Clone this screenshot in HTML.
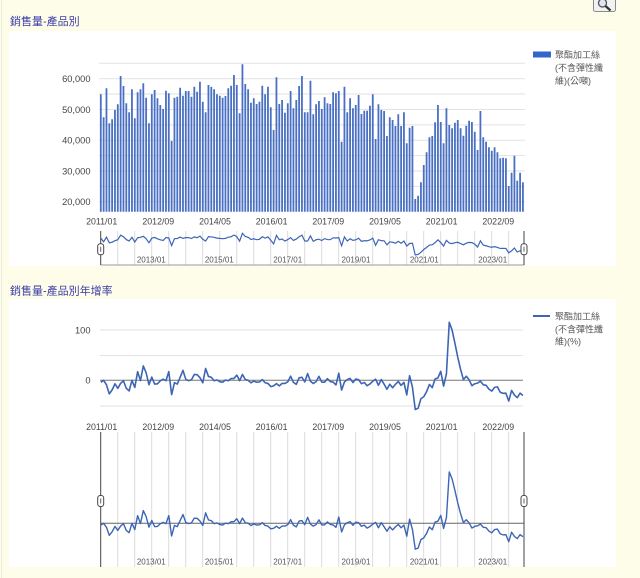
<!DOCTYPE html>
<html><head><meta charset="utf-8"><style>
html,body{margin:0;padding:0;width:640px;height:578px;overflow:hidden;background:#fefde9}
svg{display:block}
text{font-family:"Liberation Sans","Noto Sans CJK TC",sans-serif}
</style></head><body>
<svg xmlns="http://www.w3.org/2000/svg" width="640" height="578" viewBox="0 0 640 578">
<rect width="640" height="578" fill="#fefde9"/>
<line x1="1.5" y1="0" x2="1.5" y2="578" stroke="#ebebdc"/>
<rect x="9" y="31" width="607" height="235" fill="#fff"/>
<rect x="9" y="299" width="607" height="268" fill="#fff"/>

<!-- magnifier -->
<rect x="593.5" y="-3" width="22" height="14.5" rx="2" fill="#f2f2f2" stroke="#8a8a8a"/>
<circle cx="602.5" cy="3" r="4" fill="#dfe8f2" stroke="#555" stroke-width="1.3"/>
<line x1="605.5" y1="6" x2="610.5" y2="10.5" stroke="#333" stroke-width="2.2"/>

<!-- titles -->
<text x="10" y="25" font-size="11" fill="#3a3aa8">銷售量-產品別</text>
<text x="10" y="294.5" font-size="11" fill="#3a3aa8">銷售量-產品別年增率</text>

<!-- chart 1 grid -->
<g stroke="#e2e2e2" stroke-width="1">
<line x1="99" y1="63.3" x2="525" y2="63.3"/>
<line x1="99" y1="78.7" x2="525" y2="78.7"/>
<line x1="99" y1="94" x2="525" y2="94"/>
<line x1="99" y1="109.5" x2="525" y2="109.5"/>
<line x1="99" y1="124.9" x2="525" y2="124.9"/>
<line x1="99" y1="140.2" x2="525" y2="140.2"/>
<line x1="99" y1="155.6" x2="525" y2="155.6"/>
<line x1="99" y1="171" x2="525" y2="171"/>
<line x1="99" y1="186.4" x2="525" y2="186.4"/>
<line x1="99" y1="201.7" x2="525" y2="201.7"/>
</g>
<g font-size="9.3" fill="#444" text-anchor="end">
<text x="90.5" y="82">60,000</text>
<text x="90.5" y="112.8">50,000</text>
<text x="90.5" y="143.5">40,000</text>
<text x="90.5" y="174.3">30,000</text>
<text x="90.5" y="205">20,000</text>
</g>
<path id="bars" fill="#4a70c4" d=""/>
<g font-size="8.8" fill="#444" text-anchor="middle">
<text x="101.7" y="224.7">2011/01</text>
<text x="158.3" y="224.7">2012/09</text>
<text x="215" y="224.7">2014/05</text>
<text x="271.7" y="224.7">2016/01</text>
<text x="328.3" y="224.7">2017/09</text>
<text x="385" y="224.7">2019/05</text>
<text x="441.7" y="224.7">2021/01</text>
<text x="498.3" y="224.7">2022/09</text>
</g>
<!-- legend 1 -->
<rect x="533" y="51.5" width="18" height="6" fill="#3366cc"/>
<g font-size="9" fill="#555">
<text x="555" y="58">聚酯加工絲</text>
<text x="555" y="71">(不含彈性纖</text>
<text x="555" y="84">維)(公噸)</text>
</g>

<!-- nav 1 -->
<path id="nav1grid" stroke="#dcdcdc" stroke-width="1" fill="none" d=""/>
<line x1="100.7" y1="265" x2="524" y2="265" stroke="#999"/>
<path id="nav1line" stroke="#3d65b5" stroke-width="1.2" fill="none" d=""/>
<line x1="100.7" y1="231" x2="100.7" y2="265" stroke="#444"/>
<line x1="524" y1="231" x2="524" y2="265" stroke="#444"/>
<g font-size="8" fill="#555" text-anchor="middle">
<text x="151.3" y="262.3">2013/01</text>
<text x="219.3" y="262.3">2015/01</text>
<text x="287.7" y="262.3">2017/01</text>
<text x="356" y="262.3">2019/01</text>
<text x="424.3" y="262.3">2021/01</text>
<text x="492.7" y="262.3">2023/01</text>
</g>
<g fill="#fff" stroke="#444">
<rect x="97.7" y="243.8" width="6" height="11" rx="2.5"/>
<rect x="521" y="243.8" width="6" height="11" rx="2.5"/>
</g>
<g stroke="#666"><line x1="100.7" y1="246.8" x2="100.7" y2="251.8"/><line x1="524" y1="246.8" x2="524" y2="251.8"/></g>

<!-- chart 2 -->
<g stroke="#e2e2e2" stroke-width="1">
<line x1="100" y1="330" x2="523" y2="330"/>
<line x1="100" y1="355.5" x2="523" y2="355.5"/>
<line x1="100" y1="406" x2="523" y2="406"/>
</g>
<line x1="100" y1="380.3" x2="523" y2="380.3" stroke="#777"/>
<g font-size="9.3" fill="#444" text-anchor="end">
<text x="90.5" y="333.3">100</text>
<text x="90.5" y="383.6">0</text>
</g>
<path id="main2" stroke="#3d65b5" stroke-width="1.6" fill="none" stroke-linejoin="round" d=""/>
<g font-size="8.8" fill="#444" text-anchor="middle">
<text x="101.7" y="429.8">2011/01</text>
<text x="158.3" y="429.8">2012/09</text>
<text x="215" y="429.8">2014/05</text>
<text x="271.7" y="429.8">2016/01</text>
<text x="328.3" y="429.8">2017/09</text>
<text x="385" y="429.8">2019/05</text>
<text x="441.7" y="429.8">2021/01</text>
<text x="498.3" y="429.8">2022/09</text>
</g>
<line x1="533" y1="316" x2="550" y2="316" stroke="#3d65b5" stroke-width="2"/>
<g font-size="9" fill="#555">
<text x="555" y="319.5">聚酯加工絲</text>
<text x="555" y="332.5">(不含彈性纖</text>
<text x="555" y="344.5">維)(%)</text>
</g>

<!-- nav 2 -->
<path id="nav2grid" stroke="#dcdcdc" stroke-width="1" fill="none" d=""/>
<line x1="100.7" y1="523.3" x2="524" y2="523.3" stroke="#666"/>
<path id="nav2line" stroke="#3d65b5" stroke-width="1.4" fill="none" stroke-linejoin="round" d=""/>
<line x1="100.7" y1="432" x2="100.7" y2="567" stroke="#444"/>
<line x1="524" y1="432" x2="524" y2="567" stroke="#444"/>
<g font-size="8" fill="#555" text-anchor="middle">
<text x="151.3" y="564.7">2013/01</text>
<text x="219.3" y="564.7">2015/01</text>
<text x="287.7" y="564.7">2017/01</text>
<text x="356" y="564.7">2019/01</text>
<text x="424.3" y="564.7">2021/01</text>
<text x="492.7" y="564.7">2023/01</text>
</g>
<g fill="#fff" stroke="#444">
<rect x="97.7" y="495.5" width="6" height="11" rx="2.5"/>
<rect x="521" y="495.5" width="6" height="11" rx="2.5"/>
</g>
<g stroke="#666"><line x1="100.7" y1="498.5" x2="100.7" y2="503.5"/><line x1="524" y1="498.5" x2="524" y2="503.5"/></g>
</svg>
<script>
(function(){
var Y=[94.3,117.3,88.3,123.3,119.3,110,104.3,76,86,103.3,
112.3,89.3,118.3,92.3,89.3,83.3,97.7,123.3,94.3,90,
98.3,105,109,90.7,93.3,141,97.7,96.7,87.7,95.7,
91,91,96.7,86.7,91.7,81.7,101.7,112.3,85,86.7,
89.3,94.3,95.7,97.7,96,88.3,85.7,75,85,113.3,
64.3,84,89.3,102.7,98.3,104,101.7,85.7,94.3,86.7,
107.3,130,77.3,104,100,112.7,103.3,91,108.3,100,
86,
76,112.3,112.3,80.7,114.3,104.3,101,109,97.3,103.3,
104,92.3,93.3,91,141.7,86.7,112.3,98.3,108.3,105,
95,114,110.7,110.7,105.7,94.3,139,104.3,110,111,
136,117.3,120,126,114.3,126,112.3,143.3,127.7,126,
199,195.7,182.3,165,152.3,137.3,136,122.3,105,122,
143.3,108.3,125,128.3,122.7,120,128.3,135.7,125.7,120.7,
122,131.7,150,111,137.3,141.7,147.3,150.7,147.3,152.3,
158.3,157.7,158.3,186,172.7,155.7,180.7,172.7,182.3];
var first=[-4,0,-9,-27,-19,-7,-16,-6,-1,-16,-21,0];
var V=Y.map(function(y){return 60000-(y-78.7)*325.2;});
var P=V.map(function(v,i){return i<12?first[i]:(v/V[i-12]-1)*100;});
function X(i){return 100.8+i*2.833;}
var b="",n1="",m2="",n2="",g1="",g2="";
for(var i=0;i<Y.length;i++){
  var x=X(i);
  b+="M"+(x-0.9).toFixed(2)+" "+Y[i].toFixed(2)+"h1.8V211.7h-1.8Z";
  var c=i?"L":"M";
  n1+=c+x.toFixed(2)+" "+(233.3+(Y[i]-64.3)*0.161).toFixed(2);
  m2+=c+x.toFixed(2)+" "+(380.3-P[i]*0.503).toFixed(2);
  n2+=c+x.toFixed(2)+" "+(523.3-P[i]*0.445).toFixed(2);
}
for(var k=6;k<150;k+=6){
  var gx=(100.7+k*2.833).toFixed(2);
  g1+="M"+gx+" 231V265";
  g2+="M"+gx+" 432V567";
}
document.getElementById("bars").setAttribute("d",b);
document.getElementById("nav1line").setAttribute("d",n1);
document.getElementById("main2").setAttribute("d",m2);
document.getElementById("nav2line").setAttribute("d",n2);
document.getElementById("nav1grid").setAttribute("d",g1);
document.getElementById("nav2grid").setAttribute("d",g2);
})();
</script>
</body></html>
